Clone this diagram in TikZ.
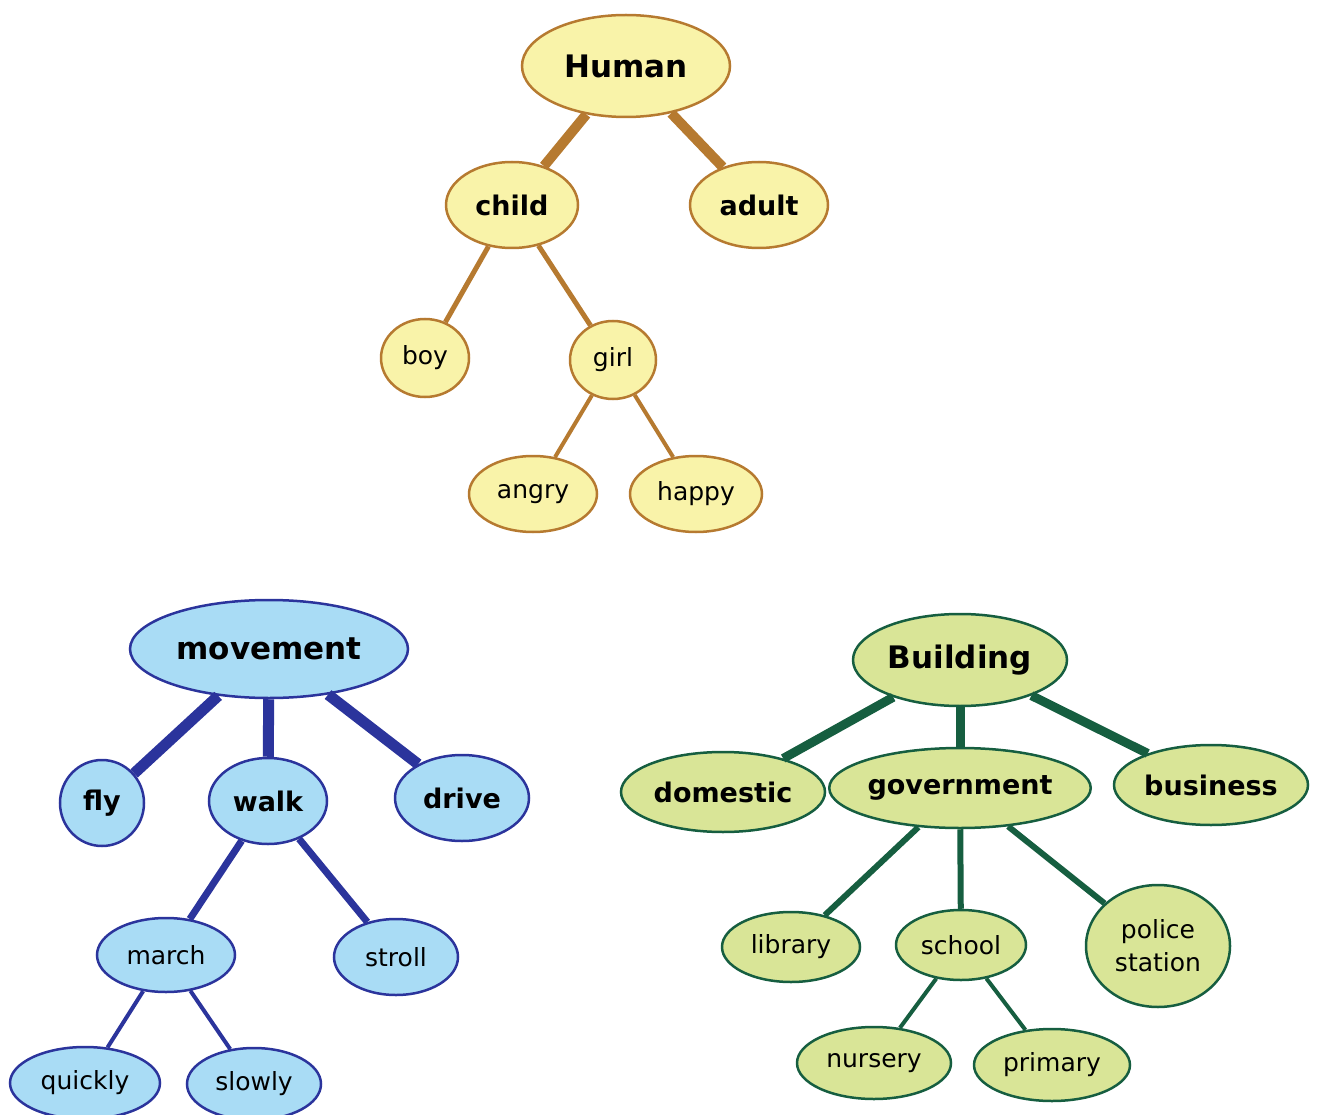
\documentclass[tikz,border=0pt]{standalone}
\usepackage{fontspec}
\setmainfont{DejaVu Sans}
\usetikzlibrary{shapes.geometric}

% palettes for the three trees
\definecolor{yfill}{HTML}{F9F3A9}
\definecolor{yline}{HTML}{B67A30}
\definecolor{bfill}{HTML}{A9DCF5}
\definecolor{bline}{HTML}{2B349C}
\definecolor{gfill}{HTML}{D9E597}
\definecolor{gline}{HTML}{165E40}

\tikzset{
  bubble/.style n args={2}{ellipse, inner sep=0pt, line width=2.5pt,
    minimum width=#1pt, minimum height=#2pt, align=center},
  yb/.style={bubble={#1}, fill=yfill, draw=yline},
  bb/.style={bubble={#1}, fill=bfill, draw=bline},
  gb/.style={bubble={#1}, fill=gfill, draw=gline},
  root/.style={font=\fontsize{31}{33}\selectfont\bfseries},
  mid/.style={font=\fontsize{27}{29}\selectfont\bfseries},
  leaf/.style={font=\fontsize{25}{33}\selectfont},
  ylink/.style={draw=yline, line width=#1pt},
  blink/.style={draw=bline, line width=#1pt},
  glink/.style={draw=gline, line width=#1pt},
}

\begin{document}
\begin{tikzpicture}[x=1pt, y=-1pt]
\useasboundingbox (0,0) rectangle (1317,1115);

% ---- Human tree ----
\node[yb={{208}{102}}, root] (human) at (626,66) {Human};
\node[yb={{132}{86}}, mid] (child) at (512,205) {child};
\node[yb={{138}{86}}, mid] (adult) at (759,205) {adult};
\node[yb={{88}{78}}, leaf] (boy) at (425,358) {boy};
\node[yb={{86}{78}}, leaf] (girl) at (613,360) {girl};
\node[yb={{128}{76}}, leaf] (angry) at (533,494) {angry};
\node[yb={{132}{76}}, leaf] (happy) at (696,494) {happy};

\draw[ylink=10] (human) -- (child);
\draw[ylink=10] (human) -- (adult);
\draw[ylink=5] (child) -- (boy);
\draw[ylink=5] (child) -- (girl);
\draw[ylink=4] (girl) -- (angry);
\draw[ylink=4] (girl) -- (happy);

% ---- movement tree ----
\node[bb={{278}{98}}, root] (movement) at (269,649) {movement};
\node[bb={{84}{86}}, mid] (fly) at (102,803) {fly};
\node[bb={{118}{86}}, mid] (walk) at (268,801) {walk};
\node[bb={{134}{86}}, mid] (drive) at (462,798) {drive};
\node[bb={{138}{74}}, leaf] (march) at (166,955) {march};
\node[bb={{124}{76}}, leaf] (stroll) at (396,957) {stroll};
\node[bb={{150}{72}}, leaf] (quickly) at (85,1083) {quickly};
\node[bb={{134}{72}}, leaf] (slowly) at (254,1084) {slowly};

\draw[blink=11] (movement) -- (fly);
\draw[blink=11] (movement) -- (walk);
\draw[blink=11] (movement) -- (drive);
\draw[blink=7] (walk) -- (march);
\draw[blink=7] (walk) -- (stroll);
\draw[blink=4] (march) -- (quickly);
\draw[blink=4] (march) -- (slowly);

% ---- Building tree ----
\node[gb={{214}{92}}, root] (building) at (960,660) {Building};
\node[gb={{204}{80}}, mid] (domestic) at (723,792) {domestic};
\node[gb={{258}{80}}, mid] (government) at (960,788) {government};
\node[gb={{194}{80}}, mid] (business) at (1211,785) {business};
\node[gb={{138}{70}}, leaf] (library) at (791,947) {library};
\node[gb={{130}{70}}, leaf] (school) at (961,945) {school};
\node[gb={{144}{122}}, leaf] (police) at (1158,946) {police\\station};
\node[gb={{154}{72}}, leaf] (nursery) at (874,1063) {nursery};
\node[gb={{156}{72}}, leaf] (primary) at (1052,1065) {primary};

\draw[glink=9] (building) -- (domestic);
\draw[glink=9] (building) -- (government);
\draw[glink=9] (building) -- (business);
\draw[glink=6] (government) -- (library);
\draw[glink=6] (government) -- (school);
\draw[glink=6] (government) -- (police);
\draw[glink=4] (school) -- (nursery);
\draw[glink=4] (school) -- (primary);
\end{tikzpicture}
\end{document}
